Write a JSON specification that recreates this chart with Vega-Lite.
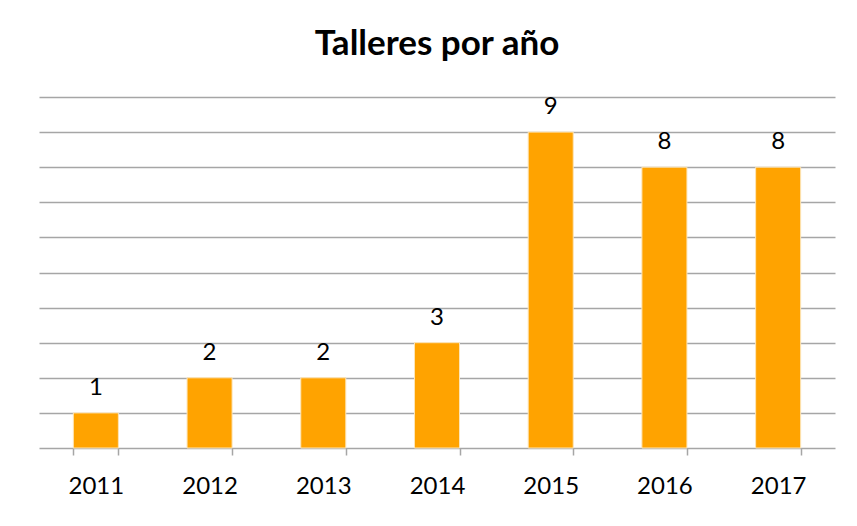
{
  "$schema": "https://vega.github.io/schema/vega-lite/v6.json",
  "width": 796,
  "height": 351,
  "autosize": "none",
  "padding": {"left": 39, "top": 97, "right": 22, "bottom": 78},
  "background": "white",
  "title": {
    "text": "Talleres por año",
    "font": "Lato",
    "fontSize": 35,
    "fontWeight": "bold",
    "color": "#000000",
    "anchor": "middle",
    "offset": 5,
    "baseline": "alphabetic"
  },
  "data": {
    "values": [
      {"year": "2011", "count": 1},
      {"year": "2012", "count": 2},
      {"year": "2013", "count": 2},
      {"year": "2014", "count": 3},
      {"year": "2015", "count": 9},
      {"year": "2016", "count": 8},
      {"year": "2017", "count": 8}
    ]
  },
  "encoding": {
    "x": {
      "field": "year",
      "type": "ordinal",
      "scale": {"paddingInner": 0.604, "paddingOuter": 0.302},
      "axis": {
        "title": null,
        "labelAngle": 0,
        "labelFont": "Lato",
        "labelFontSize": 24,
        "labelColor": "#000000",
        "labelPadding": 19,
        "domainColor": "#a6a6a6",
        "domainWidth": 1.5,
        "tickColor": "#a6a6a6",
        "tickWidth": 1.5,
        "tickSize": 7,
        "tickBand": "extent",
        "grid": false
      }
    },
    "y": {
      "field": "count",
      "type": "quantitative",
      "scale": {"domain": [0, 10], "nice": false},
      "axis": {
        "title": null,
        "labels": false,
        "ticks": false,
        "domain": false,
        "values": [1, 2, 3, 4, 5, 6, 7, 8, 9, 10],
        "grid": true,
        "gridColor": "#a6a6a6",
        "gridWidth": 1.5
      }
    }
  },
  "layer": [
    {
      "mark": {"type": "bar", "color": "#ffa300", "stroke": "#fde5b8", "strokeWidth": 1}
    },
    {
      "mark": {"type": "text", "baseline": "alphabetic", "dy": -18, "font": "Lato", "fontSize": 24, "color": "#000000"},
      "encoding": {"text": {"field": "count", "type": "quantitative"}}
    }
  ],
  "config": {"view": {"stroke": null}}
}
